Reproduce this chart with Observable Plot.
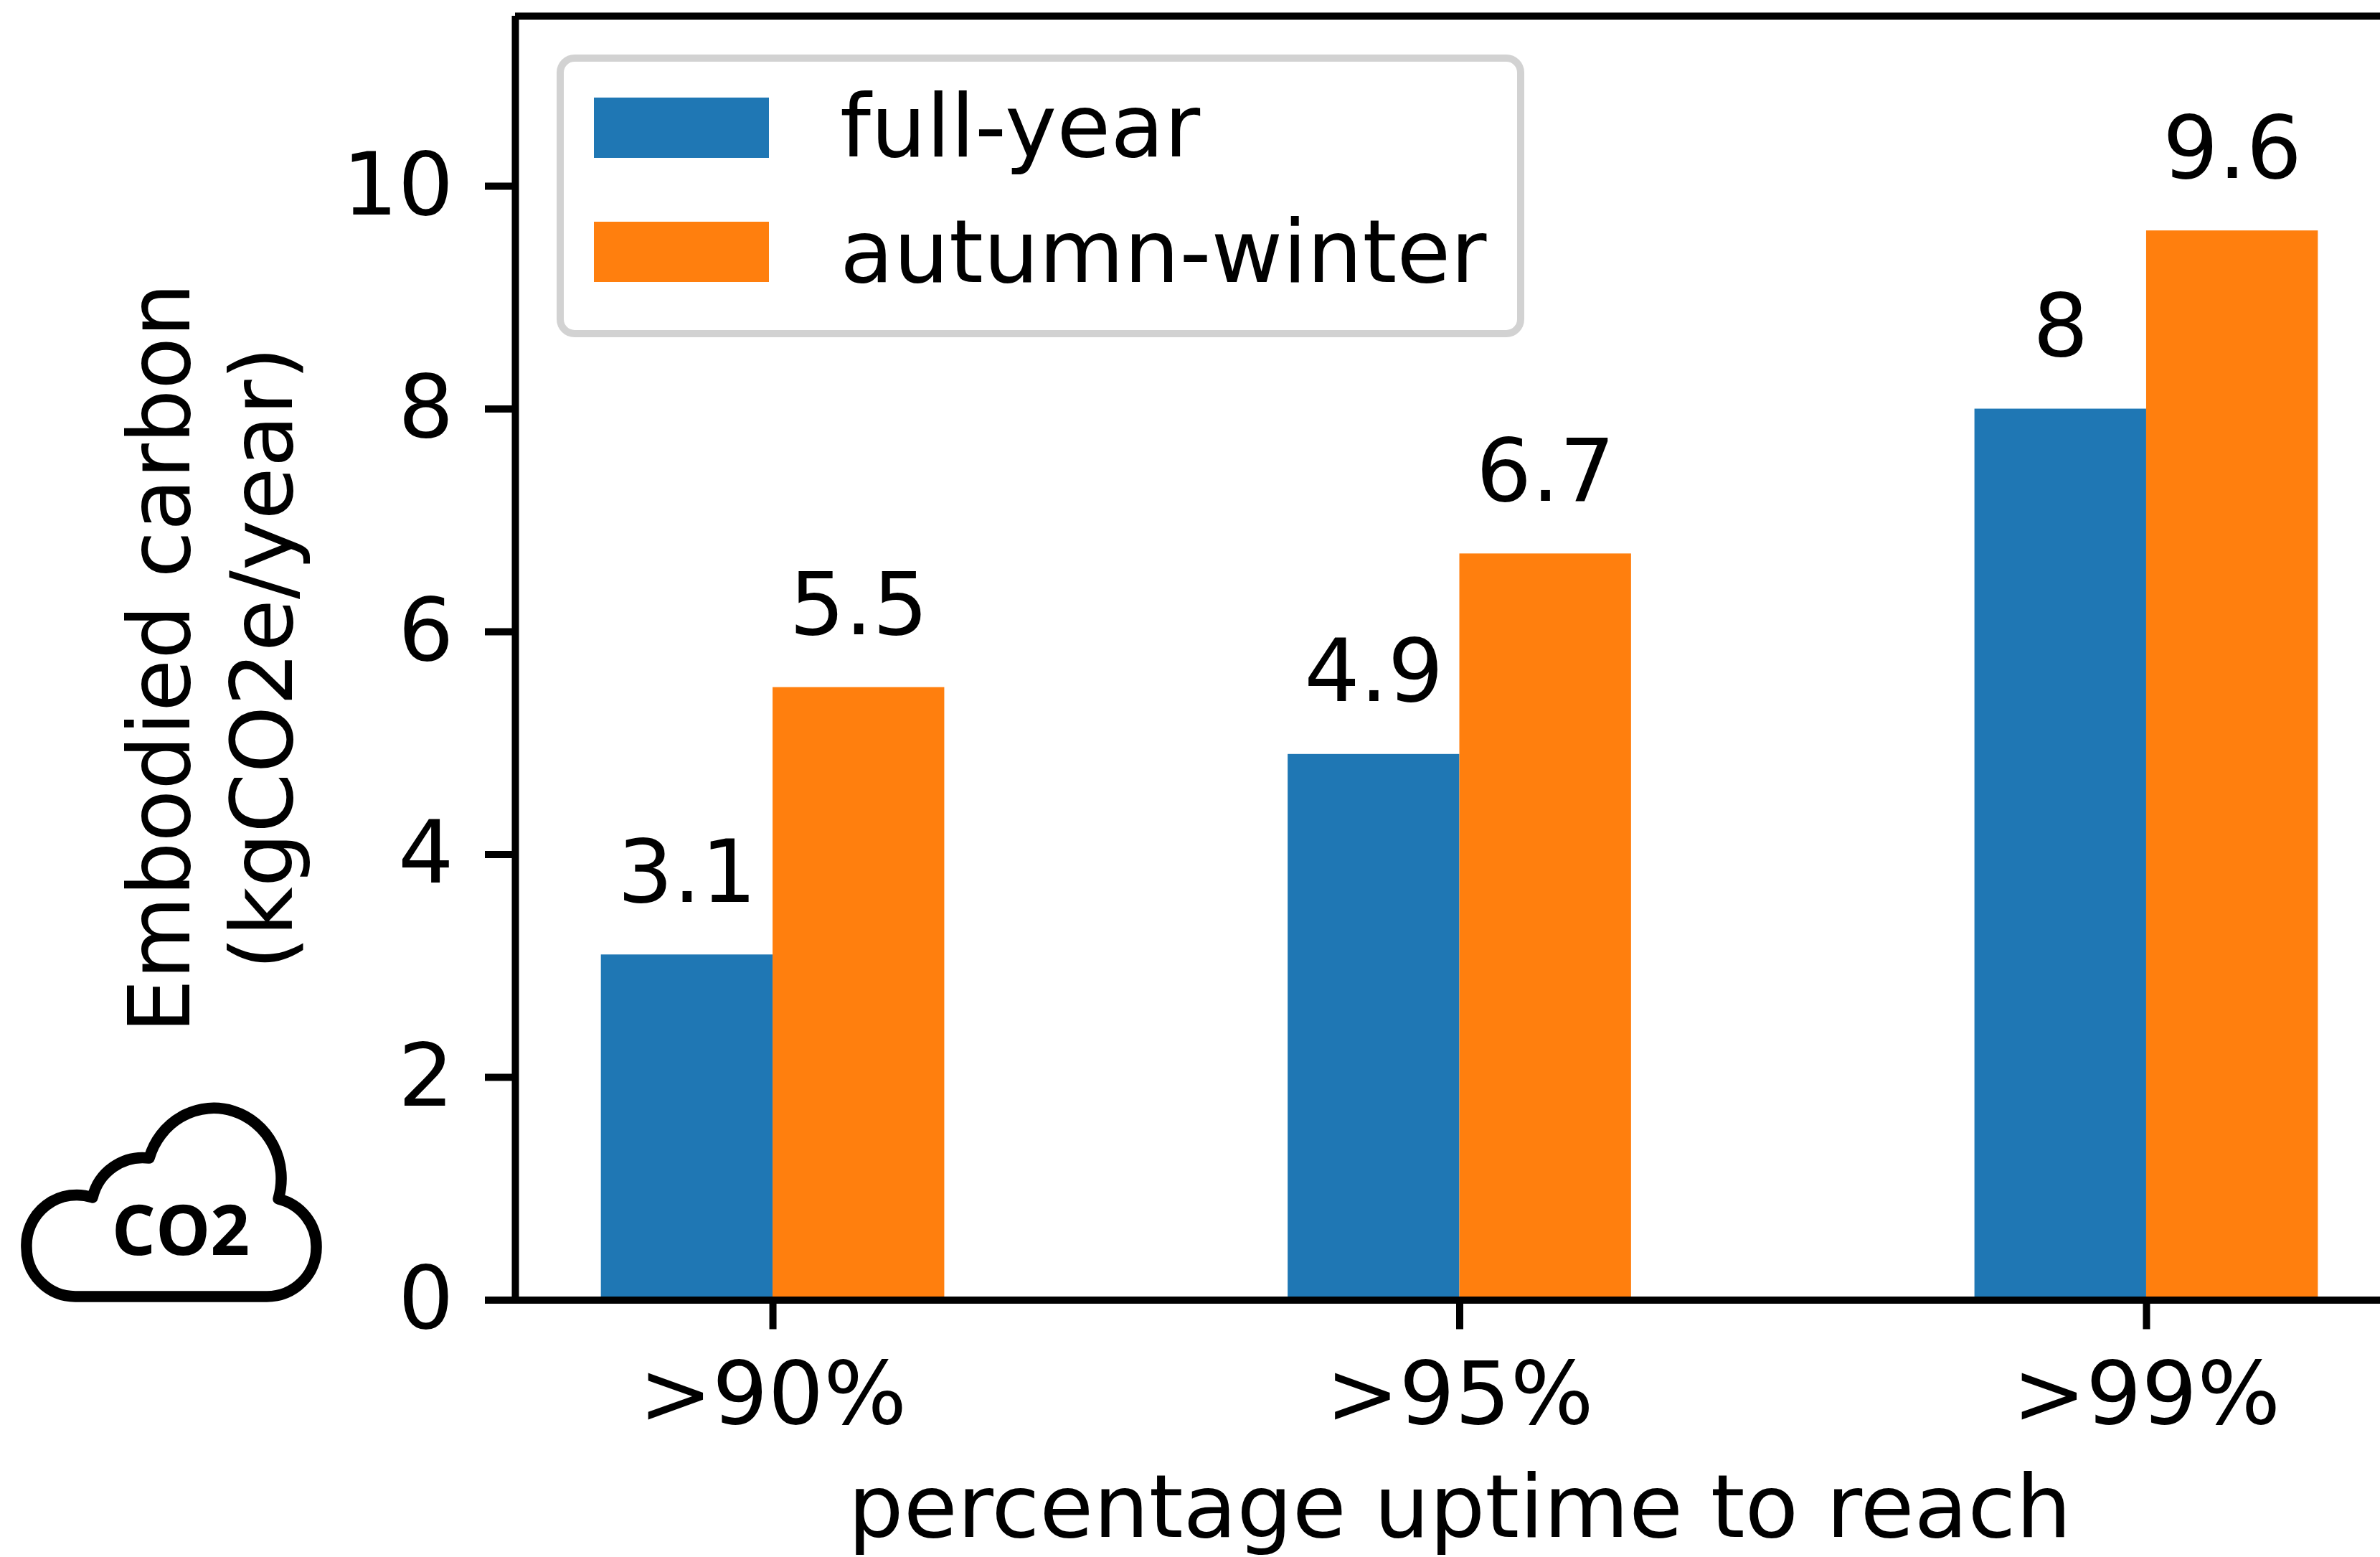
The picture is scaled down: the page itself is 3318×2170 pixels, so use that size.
<!DOCTYPE html>
<html>
<head>
<meta charset="utf-8">
<style>html,body{margin:0;padding:0;background:#fff;overflow:hidden}</style>
<script src="https://cdn.jsdelivr.net/npm/d3@7"></script>
<script src="https://cdn.jsdelivr.net/npm/@observablehq/plot@0.6"></script>
</head>
<body>
<div id="chart"></div>
<script>
const categories = [">90%", ">95%", ">99%"];
const seriesNames = ["full-year", "autumn-winter"];
const fullYear = [3.1, 4.9, 8];
const autumnWinter = [5.5, 6.7, 9.6];
const seriesColors = ["#1f77b4", "#ff7f0e"];
const yTicks = [0, 2, 4, 6, 8, 10];
const xLabel = "percentage uptime to reach";
const yLabel = "Embodied carbon\n(kgCO2e/year)";

const barWidth = 0.25, xMin = -0.375, xMax = 2.375, yMax = 11.527;
const FS = 122, LW = 10;

const rows = categories.flatMap((c, i) => [
  {group: i, series: seriesNames[0], value: fullYear[i], x1: i - barWidth, x2: i},
  {group: i, series: seriesNames[1], value: autumnWinter[i], x1: i, x2: i + barWidth}
]);

function legend(index, scales, values, dimensions) {
  const g = d3.create("svg:g").attr("text-anchor", "start");
  g.append("rect").attr("x", 781).attr("y", 81).attr("width", 1339).attr("height", 384).attr("rx", 20)
    .attr("fill", "#fff").attr("stroke", "#d2d2d2").attr("stroke-width", 10);
  [[136, 218], [309, 393]].forEach(([top, base], i) => {
    g.append("rect").attr("x", 828).attr("y", top).attr("width", 244).attr("height", 84)
      .attr("fill", scales.color(seriesNames[i]));
    g.append("text").attr("x", 1171).attr("y", base).attr("font-size", FS)
      .attr("font-family", "DejaVu Sans").attr("fill", "#000").text(seriesNames[i]);
  });
  return g.node();
}

function cloud() {
  const g = d3.create("svg:g");
  g.append("path")
    .attr("d", "M105 1807H372A69 68 0 0 0 441 1739A69 68 0 0 0 388 1671A92 96 0 1 0 208 1614A72 72 0 0 0 129 1669A70 70 0 0 0 37 1739A68 68 0 0 0 105 1807Z")
    .attr("fill", "none").attr("stroke", "#000").attr("stroke-width", 15.5).attr("stroke-linejoin", "round");
  g.append("text").attr("x", 252).attr("y", 1749).attr("text-anchor", "middle")
    .attr("font-family", "Open Sans").attr("font-weight", 700).attr("font-size", 96).attr("fill", "#000").text("CO2");
  return g.node();
}

const chart = Plot.plot({
  width: 3318,
  height: 2170,
  marginLeft: 718,
  marginRight: 0,
  marginTop: 22,
  marginBottom: 358.5,
  style: {background: "#fff", fontFamily: "DejaVu Sans", color: "#000", overflow: "hidden"},
  x: {domain: [xMin, xMax], range: [718, 3351], axis: null},
  y: {domain: [0, yMax], axis: null},
  color: {domain: seriesNames, range: seriesColors},
  marks: [
    Plot.rectY(rows, {x1: "x1", x2: "x2", y1: 0, y2: "value", fill: "series"}),
    Plot.text(rows, {
      x: d => (d.x1 + d.x2) / 2, y: "value", text: d => String(d.value),
      fontSize: FS, fill: "#000", lineAnchor: "bottom", dy: -74
    }),
    Plot.axisY({ticks: yTicks, tickSize: 42, tickPadding: 44, fontSize: FS, strokeWidth: LW, label: null, tickFormat: d => String(d)}),
    Plot.axisX({ticks: [0, 1, 2], tickFormat: i => categories[i], tickSize: 41, tickPadding: 44, fontSize: FS, strokeWidth: LW, label: null}),
    Plot.ruleY([0], {stroke: "#000", strokeWidth: LW}),
    Plot.ruleY([yMax], {stroke: "#000", strokeWidth: LW}),
    Plot.ruleX([xMin], {stroke: "#000", strokeWidth: LW}),
    Plot.text([xLabel], {x: () => 1, frameAnchor: "bottom", dy: 330, fontSize: FS, fill: "#000", lineAnchor: "bottom"}),
    Plot.text([yLabel], {frameAnchor: "left", textAnchor: "middle", dx: -429, rotate: -90, fontSize: 119, fill: "#000", lineHeight: 1.2}),
    legend,
    cloud
  ]
});
document.getElementById("chart").appendChild(chart);
</script>
</body>
</html>
